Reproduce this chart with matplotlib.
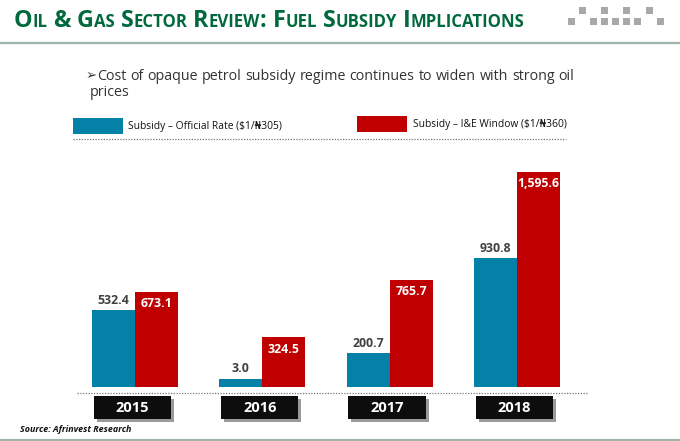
import matplotlib
matplotlib.use("Agg")
import matplotlib.pyplot as plt
import matplotlib.transforms as mtransforms
from matplotlib.patches import Rectangle
from matplotlib.lines import Line2D
import numpy as np

# Data
years = ["2015", "2016", "2017", "2018"]
official_rate = [532.4, 3.0, 200.7, 930.8]     # Subsidy - Official Rate ($1/N305)
ie_window = [673.1, 324.5, 765.7, 1595.6]      # Subsidy - I&E Window ($1/N360)
series_names = ["Subsidy \u2013 Official Rate ($1/\u20a6305)",
                "Subsidy \u2013 I&E Window ($1/\u20a6360)"]

TITLE = "Oil & Gas Sector Review: Fuel Subsidy Implications"
BULLET = "Cost of opaque petrol subsidy regime continues to widen with strong oil"
BULLET_2 = "prices"
SOURCE = "Source: Afrinvest Research"

BLUE = "#0580A6"
RED = "#C00000"
GREEN = "#00693E"
RULE = "#9DB5AB"
FONT = ["Open Sans", "DejaVu Sans"]

W, H = 680, 441
fig = plt.figure(figsize=(W / 100, H / 100), dpi=100)
renderer = fig.canvas.get_renderer()


def fx(px):
    return px / W


def fy(py):
    return 1 - py / H


def width_of(t):
    return t.get_window_extent(renderer).width


# Title in small caps, scaled to span the header
def draw_title(scale):
    x = 14
    artists = []
    for word in TITLE.split():
        runs = []
        for ch in word:
            low = ch.islower()
            if runs and runs[-1][1] == low:
                runs[-1][0] += ch
            else:
                runs.append([ch, low])
        for text, low in runs:
            size = (11.2 if low else 15.5) * scale
            t = fig.text(fx(x), fy(27), text.upper(), fontsize=size, fontweight="bold",
                         color=GREEN, family=FONT, va="baseline", ha="left")
            artists.append(t)
            x += width_of(t)
        x += 5.5 * scale
    return x - 5.5 * scale, artists


end, arts = draw_title(1.0)
for a in arts:
    a.remove()
draw_title((523 - 14) / (end - 14))

# Header / footer rules
fig.add_artist(Line2D([0, 1], [fy(43), fy(43)], color=RULE, lw=1.6))
fig.add_artist(Line2D([0, 1], [fy(439.5), fy(439.5)], color=RULE, lw=1.6))

# Logo squares (decoration)
for px in [579, 601, 623, 646]:
    fig.add_artist(Rectangle((fx(px), fy(14)), fx(7), 7 / H, color="#A8A8A8", lw=0))
for px in [568, 590, 601, 612, 623, 634, 657]:
    fig.add_artist(Rectangle((fx(px), fy(25)), fx(7), 7 / H, color="#A8A8A8", lw=0))

# Bullet line, justified
fig.text(fx(86), fy(76), "\u27a2", fontsize=9.5, color="#333333", family=["DejaVu Sans"],
         va="center", ha="left")
words = BULLET.split()
tmp = [fig.text(0, 0, w_, fontsize=10.3, family=FONT) for w_ in words]
widths = [width_of(t) for t in tmp]
for t in tmp:
    t.remove()
gap = (574 - 97 - sum(widths)) / (len(words) - 1)
x = 97
for w_, wd in zip(words, widths):
    fig.text(fx(x), fy(76), w_, fontsize=10.3, color="#333333", family=FONT, va="center", ha="left")
    x += wd + gap
fig.text(fx(90), fy(93), BULLET_2, fontsize=10.3, color="#333333", family=FONT, va="center", ha="left")

# Legend
fig.add_artist(Rectangle((fx(73), fy(134)), fx(50), 16 / H, color=BLUE, lw=0))
fig.text(fx(128), fy(126), series_names[0], fontsize=7.4, color="#111111", family=FONT, va="center")
fig.add_artist(Rectangle((fx(357), fy(132)), fx(50), 16 / H, color=RED, lw=0))
fig.text(fx(413), fy(124), series_names[1], fontsize=7.4, color="#111111", family=FONT, va="center")
fig.add_artist(Line2D([fx(73), fx(566)], [fy(138.5), fy(138.5)], color="#777777", lw=0.9,
                      linestyle=(0, (1, 1.2))))

# Bars
ax = fig.add_axes([fx(70), fy(387), fx(530), (387 - 150) / H])
ax.axis("off")
x = np.arange(len(years))
bw = 0.338
floor = 60
ax.bar(x - bw / 2, np.array(official_rate) + floor, bw, bottom=-floor, color=BLUE, linewidth=0)
ax.bar(x + bw / 2, np.array(ie_window) + floor, bw, bottom=-floor, color=RED, linewidth=0)
ax.set_xlim(-0.51, 3.653)
ax.set_ylim(-floor, 1765)

for xi, v in zip(x, official_rate):
    ax.annotate(f"{v:,.1f}", (xi - bw / 2, v), xytext=(0, 10), textcoords="offset pixels",
                ha="center", va="center", fontsize=8.8, fontweight="bold", color="#404040",
                family=FONT)
for xi, v in zip(x, ie_window):
    ax.annotate(f"{v:,.1f}", (xi + bw / 2, v), xytext=(0, -12), textcoords="offset pixels",
                ha="center", va="center", fontsize=8.8, fontweight="bold", color="white",
                family=FONT)

fig.add_artist(Line2D([fx(77), fx(588)], [fy(392.5), fy(392.5)], color="#777777", lw=0.9,
                      linestyle=(0, (1, 1.2))))

# Year boxes under the bars
trans = mtransforms.blended_transform_factory(ax.transData, fig.transFigure)
shadow = mtransforms.offset_copy(trans, fig=fig, x=3, y=-3, units="dots")
box_w = 0.605
for xi, yr in zip(x, years):
    cx = xi - 0.02
    ax.add_patch(Rectangle((cx - box_w / 2, fy(419)), box_w, 23 / H, transform=shadow,
                           color="#9A9A9A", lw=0, clip_on=False))
    ax.add_patch(Rectangle((cx - box_w / 2, fy(419)), box_w, 23 / H, transform=trans,
                           color="#0D0D0D", lw=0, clip_on=False))
    ax.text(cx, fy(407.5), yr, transform=trans, ha="center", va="center", fontsize=10.5,
            fontweight="bold", color="white", family=FONT, clip_on=False)

fig.text(fx(20), fy(429), SOURCE, fontsize=6.4, fontweight="bold", style="italic",
         color="#111111", family=FONT, va="center")

fig.savefig("out.png", dpi=100, facecolor="white")
